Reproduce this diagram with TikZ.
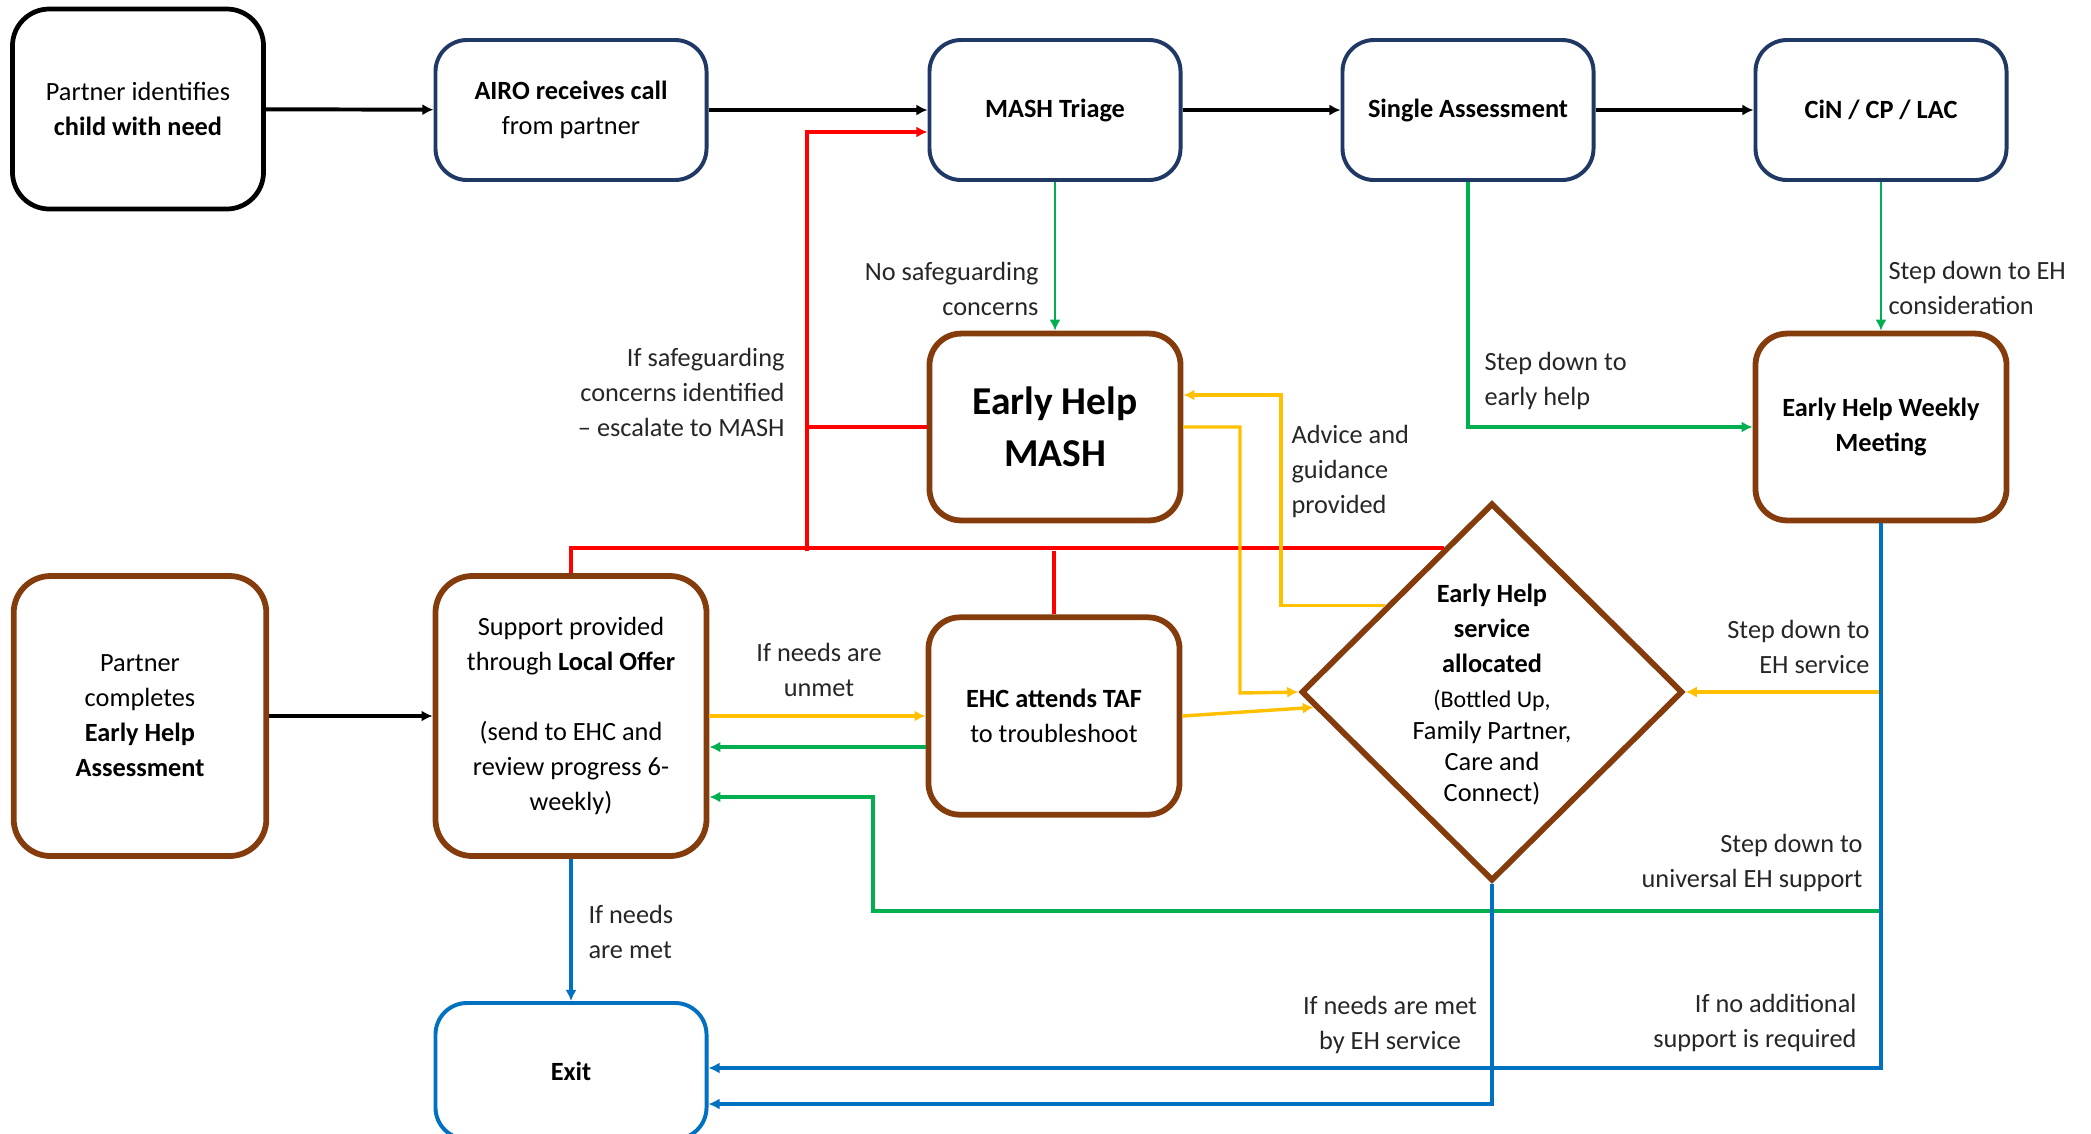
\documentclass[tikz,border=0pt]{standalone}
\usepackage{fontspec}
\setmainfont{Carlito}
\usetikzlibrary{arrows.meta,shapes.geometric,calc}

\definecolor{navy}{RGB}{31,56,100}
\definecolor{brownline}{RGB}{132,60,12}
\definecolor{blueline}{RGB}{0,112,192}
\definecolor{greenline}{RGB}{0,176,80}
\definecolor{amber}{RGB}{255,192,0}
\definecolor{redline}{RGB}{255,0,0}
\definecolor{textgray}{RGB}{38,38,38}

\tikzset{
  box/.style={draw, rounded corners=12pt, align=center, fill=white,
    font=\fontsize{10pt}{13.3pt}\selectfont},
  blackbox/.style={box, draw=black, line width=1.8pt, rounded corners=14pt,
    minimum width=95.4pt, minimum height=76pt},
  navybox/.style={box, draw=navy, line width=1.5pt,
    minimum width=95.4pt, minimum height=53.2pt},
  brownbox/.style={box, draw=brownline, line width=2.2pt},
  bluebox/.style={box, draw=blueline, line width=1.5pt},
  diabox/.style={diamond, draw=brownline, line width=2.2pt, fill=white,
    minimum width=145pt, minimum height=143.6pt, inner sep=0pt},
  dtext/.style={align=center, inner sep=0pt,
    font=\fontsize{10pt}{13.3pt}\selectfont},
  lbl/.style={inner sep=0pt, align=#1, text=textgray,
    font=\fontsize{10pt}{13.3pt}\selectfont},
  lbl/.default=center,
  blk/.style={draw=black, line width=1.5pt},
  redl/.style={draw=redline, line width=1.5pt},
  grn/.style={draw=greenline, line width=1.4pt},
  grnthin/.style={draw=greenline, line width=1pt},
  yel/.style={draw=amber, line width=1.3pt},
  blu/.style={draw=blueline, line width=1.3pt}
}

\begin{document}
\begin{tikzpicture}[x=0.38pt, y=-0.38pt, >={Latex[length=4.2pt,width=4.2pt]}]
\useasboundingbox (0,0) rectangle (2091,1133);

% top row
\node[blackbox] (pid) at (138,109) {Partner identifies\\\textbf{child with need}};
\node[navybox, minimum width=103pt] (airo) at (571,110) {\textbf{AIRO receives call}\\from partner};
\node[navybox] (triage) at (1055,110) {\textbf{MASH Triage}};
\node[navybox] (single) at (1468,110) {\textbf{Single Assessment}};
\node[navybox] (cin) at (1881,110) {\textbf{CiN / CP / LAC}};

% middle row
\node[brownbox, minimum width=95.4pt, minimum height=71pt,
  font=\fontsize{15pt}{19.8pt}\selectfont\bfseries] (ehmash) at (1055,427) {Early Help\\MASH};
\node[brownbox, minimum width=95.4pt, minimum height=71pt] (weekly) at (1881,427) {\textbf{Early Help Weekly}\\\textbf{Meeting}};

% lower rows
\node[brownbox, rounded corners=14pt, minimum width=96pt, minimum height=106.4pt] (pcomp) at (140,716)
  {Partner\\completes\\\textbf{Early Help}\\\textbf{Assessment}};
\node[brownbox, rounded corners=14pt, minimum width=103pt, minimum height=106.4pt] (support) at (571,716)
  {Support provided\\through \textbf{Local Offer}\\[13.3pt](send to EHC and\\review progress 6-\\weekly)};
\node[brownbox, minimum width=95.4pt, minimum height=75pt] (ehc) at (1054,716) {\textbf{EHC attends TAF}\\to troubleshoot};
\node[diabox] (dia) at (1492,692) {};
\node[dtext] (diatext) at (1492,695) {\textbf{Early Help}\\\textbf{service}\\\textbf{allocated}\\
  \fontsize{9.1pt}{12pt}\selectfont (Bottled Up,\\[-1.4pt]Family Partner,\\[-1.4pt]Care and\\[-1.4pt]Connect)};
\node[bluebox, minimum width=103pt, minimum height=51.7pt] (exit) at (571,1071) {\textbf{Exit}};

% black flow
\draw[blk, ->] (pid) -- (airo);
\draw[blk, ->] (airo) -- (triage);
\draw[blk, ->] (triage) -- (single);
\draw[blk, ->] (single) -- (cin);
\draw[blk, ->] (pcomp) -- (support);

% escalation
\coordinate (rj) at (807,551);
\draw[redl] (support.north) |- ($(dia.north)!0.25!(dia.west)$);
\draw[redl, ->] (rj) |- ($(triage.west)+(0,22)$);
\draw[redl] (rj |- ehmash.west) -- (ehmash.west);
\draw[redl] (ehc.north) -- (ehc.north |- rj);

% step down
\draw[grnthin, ->] (triage.south) -- (ehmash.north);
\draw[grn, ->] (single.south) |- (weekly.west);
\draw[grnthin, ->] (cin.south) -- (weekly.north);
\draw[grn, ->] ($(ehc.west)+(0,31)$) -- ($(support.east)+(0,31)$);
\coordinate (uni) at (1881,911);
\coordinate (gbend) at (873,797);
\draw[grn, ->] (uni) -| (gbend) -- (gbend -| support.east);

% early help
\draw[yel, ->] (support.east) -- (ehc.west);
\draw[yel, ->] (ehc.east) -- ($(dia.west)!0.08!(dia.south)$);
\coordinate (yadv) at (1281,395);
\draw[yel, ->] ($(dia.north)!0.55!(dia.west)$) -| (yadv) -- (yadv -| ehmash.east);
\coordinate (ytoeh) at (1240,693);
\draw[yel, ->] (ehmash.east) -| (ytoeh) -- (dia.west);
\draw[yel, ->] (weekly.south |- dia.east) -- (dia.east);

% exit
\draw[blu, ->] (support.south) -- (exit.north);
\coordinate (bweek) at (1881,1068);
\draw[blu, ->] (weekly.south) |- (exit.east |- bweek);
\coordinate (bdia) at (1492,1104);
\draw[blu, ->] (dia.south) |- (exit.east |- bdia);

% labels
\node[lbl=right, anchor=east] (l-nosafe) at (1039,289) {No safeguarding\\concerns};
\node[lbl=right, anchor=east] (l-escal) at (785,392) {If safeguarding\\concerns identified\\– escalate to MASH};
\node[lbl=left, anchor=west] (l-advice) at (1291,471) {Advice and\\guidance\\provided};
\node[lbl=left, anchor=west] (l-early) at (1484,381) {Step down to\\early help};
\node[lbl=left, anchor=west] (l-consid) at (1888,288) {Step down to EH\\consideration};
\node[lbl] (l-unmet) at (819,670) {If needs are\\unmet};
\node[lbl=right, anchor=east] (l-ehserv) at (1870,647) {Step down to\\EH service};
\node[lbl=right, anchor=east] (l-univ) at (1863,863) {Step down to\\universal EH support};
\node[lbl=left, anchor=west] (l-met) at (588,932) {If needs\\are met};
\node[lbl] (l-metehs) at (1390,1025) {If needs are met\\by EH service};
\node[lbl=right, anchor=east] (l-noadd) at (1857,1023) {If no additional\\support is required};
\end{tikzpicture}
\end{document}
